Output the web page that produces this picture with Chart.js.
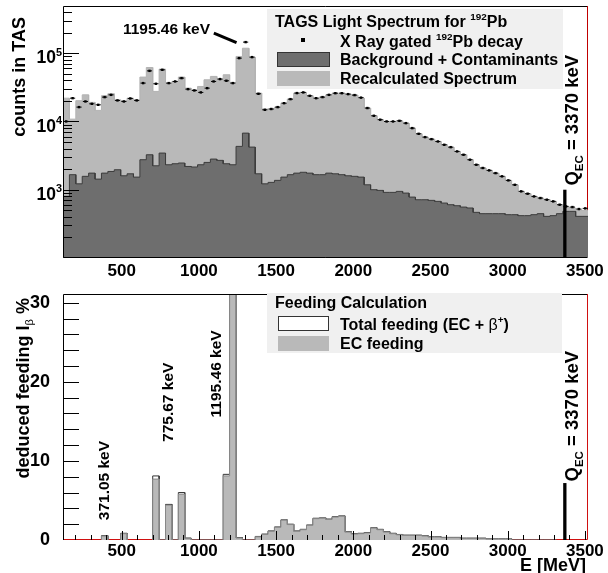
<!DOCTYPE html>
<html><head><meta charset="utf-8">
<script src="https://cdn.jsdelivr.net/npm/chart.js"></script>
<style>
html,body{margin:0;padding:0;background:#fff;width:608px;height:573px;overflow:hidden}
#c1{position:absolute;left:0;top:0}
#c2{position:absolute;left:0;top:280px}
</style></head><body>
<canvas id="c1" width="608" height="280"></canvas>
<canvas id="c2" width="608" height="293"></canvas>
<script>
// ---------------- data ----------------
const binStart = 120;     // keV, lower edge of first bin
const binWidth = 41.5;    // keV
const xMin = 120, xMax = 3520;
const xTickValues = [500, 1000, 1500, 2000, 2500, 3000, 3500];

const topYMin = 100, topYMax = 490000;
const topYTickValues = [1000, 10000, 100000];
const topYTickExponents = ['3', '4', '5'];

const measured = [10000, 21900, 16200, 19600, 18100, 17500, 22700, 24500, 20300, 19600,
  21700, 20300, 36400, 55000, 35600, 57000, 36400, 38500, 43100, 29700,
  28400, 26600, 30700, 38500, 41700, 39400, 36400, 84500, 145000, 87400,
  25400, 14800, 15200, 16200, 18500, 21200, 26000, 26600, 23700, 21900,
  22700, 24500, 25900, 25900, 25100, 24300, 22300, 15700, 12100, 10600,
  9990, 9990, 10200, 9440, 7980, 6590, 5890, 5500, 5090, 4550,
  4200, 3640, 3250, 2750, 2320, 2080, 1920, 1750, 1570, 1370,
  1180, 946, 874, 798, 755, 714, 675, 603, 570, 557,
  521, 533];

const recalculated = [21900, 10800, 20100, 24500, 19000, 14500, 23800, 25400, 20700, 20100,
  21900, 20700, 44600, 61600, 27500, 58300, 36400, 38500, 44600, 30700,
  29100, 32500, 40700, 45600, 41700, 48200, 37200, 89400, 118000, 87400,
  26000, 15200, 15200, 16200, 18500, 21200, 26000, 26600, 23800, 21900,
  22700, 24500, 25900, 25900, 25100, 24300, 22000, 15700, 12100, 10600,
  9990, 9990, 10200, 9440, 7980, 6590, 5890, 5500, 5090, 4550,
  4200, 3640, 3250, 2750, 2320, 2080, 1920, 1750, 1570, 1370,
  1180, 946, 874, 798, 755, 714, 675, 603, 560, 540,
  505, 500];

const background = [800, 1660, 1220, 1570, 1750, 1430, 1750, 1850, 1960, 1600,
  1710, 1530, 2750, 3250, 2240, 3440, 2320, 2400, 2460, 2190,
  2150, 2320, 2510, 2810, 2690, 2400, 2320, 4310, 6740, 4210,
  1710, 1220, 1280, 1370, 1530, 1660, 1750, 1800, 1750, 1660,
  1660, 1750, 1710, 1660, 1600, 1570, 1530, 1180, 1000, 977,
  914, 914, 945, 893, 780, 713, 713, 698, 675, 638,
  603, 583, 557, 540, 466, 446, 446, 446, 446, 431,
  431, 417, 417, 431, 446, 407, 417, 446, 482, 482,
  407, 407];

const qEC = 3370;            // keV
const qLineTopCounts = 1000;
const qLineTopFeeding = 7.2;

const botYMin = 0, botYMax = 31.1;
const botYTickValues = [0, 10, 20, 30];

const ecFeeding = [null, null, null, null, null, null, 0.5, null, null, 0.8,
  null, null, null, null, 7.7, 0, 4.4, 0, 5.8, 0.2,
  0, 0, 0, 0, 0, 8.1, 45, 0.25, 0, 0,
  0.4, 0.7, 1.1, 1.6, 2.5, 1.95, 1.1, 1.3, 1.85, 2.7,
  2.75, 2.6, 2.9, 3.0, 1.0, 0.75, 0.8, 0.9, 1.5, 1.3,
  1.0, 0.8, 0.66, 0.58, 0.58, 0.58, 0.5, 0.37, 0.37, 0.29,
  0.29, 0.29, 0.2, 0.2, 0.2, 0.2, 0.12, 0.12, 0.12, 0.12,
  0, 0, 0, 0, 0, 0, 0, null, null, null,
  null, null];

const totalFeeding = [null, null, null, null, null, null, 0.55, null, null, 0.85,
  null, null, null, null, 8.1, 0, 4.5, 0, 6.0, 0.25,
  0, 0, 0, 0, 0, 8.3, 45, 0.3, 0, 0,
  0.45, 0.75, 1.15, 1.65, 2.55, 2.0, 1.15, 1.35, 1.9, 2.75,
  2.8, 2.65, 2.95, 3.05, 1.05, 0.8, 0.85, 0.95, 1.55, 1.35,
  1.05, 0.85, 0.7, 0.62, 0.62, 0.62, 0.54, 0.41, 0.41, 0.33,
  0.33, 0.33, 0.24, 0.24, 0.24, 0.24, 0.15, 0.15, 0.15, 0.15,
  0, 0, 0, 0, 0, 0, 0, null, null, null,
  null, null];

// annotation anchors (data coordinates)
const peakLabelTop = {text: '1195.46 keV', e: 790, counts: 230000};
const peakArrowTop = {e0: 1097, c0: 196000, e1: 1244, c1: 143000};
const qLabelTopCounts = 1150;
const qLabelBotFeeding = 7.4;
const levelLabels = [
  {text: '371.05 keV', e: 384, v: 2.5},
  {text: '775.67 keV', e: 795, v: 12.4},
  {text: '1195.46 keV', e: 1108, v: 15.5}
];

// ---------------- helpers ----------------
const FONT = '"Liberation Sans", Arial, Helvetica, sans-serif';
function font(size, bold) { return (bold === false ? '' : 'bold ') + size + 'px ' + FONT; }
function segSize(s, size) { return (s.sup || s.sub) ? size * 0.62 : size; }
function drawRich(ctx, segs, x, y, size, align, rot, color) {
  ctx.save();
  ctx.translate(x, y);
  if (rot) ctx.rotate(rot);
  let w = 0;
  for (const s of segs) { ctx.font = font(segSize(s, size), s.bold); w += ctx.measureText(s.t).width; }
  let cx = align === 'right' ? -w : (align === 'center' ? -w / 2 : 0);
  ctx.textBaseline = 'alphabetic';
  ctx.fillStyle = color || '#000';
  const base = size * 0.36;
  for (const s of segs) {
    ctx.font = font(segSize(s, size), s.bold);
    let dy = base;
    if (s.sup) dy = base - size * 0.45;
    if (s.sub) dy = base + size * 0.25;
    ctx.fillText(s.t, cx, dy);
    cx += ctx.measureText(s.t).width;
  }
  ctx.restore();
}
function edge(i) { return binStart + binWidth * i; }
function histPoints(vals, floor) {
  const pts = []; let open = false;
  vals.forEach((v, i) => {
    const x0 = edge(i), x1 = edge(i + 1);
    if (v === null) {
      if (open) { pts.push({x: x0, y: floor}); pts.push({x: x0, y: null}); open = false; }
      return;
    }
    if (!open) { pts.push({x: x0, y: floor}); open = true; }
    pts.push({x: x0, y: v}); pts.push({x: x1, y: v});
  });
  if (open) pts.push({x: edge(vals.length), y: floor});
  return pts;
}
function errPoints(vals) {
  const pts = [];
  vals.forEach((v, i) => {
    pts.push({x: edge(i) + binWidth * 0.1, y: v});
    pts.push({x: edge(i + 1) - binWidth * 0.1, y: v});
    pts.push({x: edge(i + 1), y: null});
  });
  return pts;
}
const tickFont = {family: FONT, size: 17, weight: 'bold', lineHeight: 1};

// ---------------- top chart ----------------
const topDecor = {
  id: 'topDecor',
  beforeDatasetsDraw(chart) {
    const {ctx, chartArea: a} = chart;
    ctx.save();
    ctx.strokeStyle = '#c00000'; ctx.lineWidth = 1;
    ctx.beginPath(); ctx.moveTo(a.right - 0.5, a.top); ctx.lineTo(a.right - 0.5, a.bottom); ctx.stroke();
    ctx.restore();
  },
  afterDatasetsDraw(chart) {
    const {ctx, chartArea: a, scales: {x, y}} = chart;
    ctx.save();
    ctx.strokeStyle = '#000'; ctx.lineWidth = 1;
    ctx.beginPath();
    ctx.moveTo(a.right - 1, a.top + 0.5); ctx.lineTo(a.left + 0.5, a.top + 0.5);
    ctx.lineTo(a.left + 0.5, a.bottom - 0.5); ctx.lineTo(a.right - 1, a.bottom - 0.5);
    ctx.stroke();
    // log ticks
    for (let e = 2; e <= 5; e++) {
      for (let m = 1; m <= 9; m++) {
        const v = m * Math.pow(10, e);
        if (v <= topYMin || v >= topYMax) continue;
        const py = Math.round(y.getPixelForValue(v)) + 0.5;
        const len = m === 1 ? 16 : 9;
        ctx.beginPath(); ctx.moveTo(a.left, py); ctx.lineTo(a.left + len, py); ctx.stroke();
      }
    }
    // y labels
    topYTickValues.forEach((v, i) => {
      const py = y.getPixelForValue(v);
      drawRich(ctx, [{t: '10'}, {t: topYTickExponents[i], sup: true}], a.left - 1, py + 4, 17.5, 'right');
    });
    // axis title
    drawRich(ctx, [{t: 'counts in TAS'}], 19, 17, 18, 'right', -Math.PI / 2);
    // peak annotation
    drawRich(ctx, [{t: peakLabelTop.text}], x.getPixelForValue(peakLabelTop.e), y.getPixelForValue(peakLabelTop.counts), 15.5, 'center');
    ctx.lineWidth = 3; ctx.beginPath();
    ctx.moveTo(x.getPixelForValue(peakArrowTop.e0), y.getPixelForValue(peakArrowTop.c0));
    ctx.lineTo(x.getPixelForValue(peakArrowTop.e1), y.getPixelForValue(peakArrowTop.c1));
    ctx.stroke();
    // Q label
    drawRich(ctx, [{t: 'Q'}, {t: 'EC', sub: true}, {t: ' = 3370 keV'}], x.getPixelForValue(qEC) + 6.5, y.getPixelForValue(qLabelTopCounts), 18.5, 'left', -Math.PI / 2);
    // legend
    ctx.fillStyle = '#f0f0f0'; ctx.fillRect(267, 9, 296, 80);
    drawRich(ctx, [{t: 'TAGS Light Spectrum for '}, {t: '192', sup: true}, {t: 'Pb'}], 275, 21, 16, 'left');
    ctx.fillStyle = '#000'; ctx.fillRect(301, 38, 4, 4);
    drawRich(ctx, [{t: 'X Ray gated '}, {t: '192', sup: true}, {t: 'Pb decay'}], 340, 41.5, 16, 'left');
    ctx.fillStyle = '#6e6e6e'; ctx.fillRect(277, 52, 53, 15);
    ctx.strokeStyle = '#333'; ctx.lineWidth = 1; ctx.strokeRect(277.5, 52.5, 52, 14);
    drawRich(ctx, [{t: 'Background + Contaminants'}], 340, 59.5, 16, 'left');
    ctx.fillStyle = '#b9b9b9'; ctx.fillRect(277, 71, 53, 15);
    drawRich(ctx, [{t: 'Recalculated Spectrum'}], 340, 78.5, 16, 'left');
    ctx.restore();
  }
};

new Chart(document.getElementById('c1'), {
  type: 'line',
  data: {
    datasets: [
      { data: measured.map((v, i) => ({x: edge(i) + binWidth / 2, y: v})), showLine: false,
        pointStyle: 'rect', pointRadius: 1.7, pointBackgroundColor: '#000', pointBorderWidth: 0, order: 0 },
      { data: errPoints(measured), borderColor: '#000', borderWidth: 1, pointRadius: 0, spanGaps: false, order: 1 },
      { data: [{x: qEC, y: topYMin}, {x: qEC, y: qLineTopCounts}], borderColor: '#000', borderWidth: 3.3, pointRadius: 0, order: 2 },
      { data: histPoints(background, topYMin), borderColor: '#3c3c3c', borderWidth: 1, backgroundColor: '#6e6e6e',
        fill: 'start', pointRadius: 0, spanGaps: false, order: 3 },
      { data: histPoints(recalculated, topYMin), borderColor: '#b3b3b3', borderWidth: 1, backgroundColor: '#b9b9b9',
        fill: 'start', pointRadius: 0, spanGaps: false, order: 4 }
    ]
  },
  options: {
    responsive: false, animation: false, events: [],
    layout: {padding: {left: 0, right: 20, top: 6, bottom: 0}},
    elements: {line: {tension: 0}},
    plugins: {legend: {display: false}, tooltip: {enabled: false}},
    scales: {
      x: { type: 'linear', min: xMin, max: xMax,
        afterBuildTicks: s => { s.ticks = xTickValues.map(v => ({value: v})); },
        afterFit: s => { s.height = 22; },
        ticks: {font: tickFont, color: '#000', padding: -3, maxRotation: 0, autoSkip: false, callback: v => String(v)},
        grid: {display: false}, border: {display: false} },
      y: { type: 'logarithmic', min: topYMin, max: topYMax,
        afterFit: s => { s.width = 63; },
        ticks: {display: false}, grid: {display: false}, border: {display: false} }
    }
  },
  plugins: [topDecor]
});

// ---------------- bottom chart ----------------
const botDecor = {
  id: 'botDecor',
  beforeDatasetsDraw(chart) {
    const {ctx, chartArea: a, scales: {y}} = chart;
    ctx.save();
    ctx.strokeStyle = '#d01010'; ctx.lineWidth = 1;
    const py = y.getPixelForValue(0) - 0.5;
    ctx.beginPath(); ctx.moveTo(a.left, py); ctx.lineTo(a.right - 0.5, py); ctx.lineTo(a.right - 0.5, a.top); ctx.stroke();
    ctx.restore();
  },
  afterDatasetsDraw(chart) {
    const {ctx, chartArea: a, scales: {x, y}} = chart;
    ctx.save();
    ctx.strokeStyle = '#000'; ctx.lineWidth = 1;
    ctx.beginPath();
    ctx.moveTo(a.right - 1, a.top + 0.5); ctx.lineTo(a.left + 0.5, a.top + 0.5); ctx.lineTo(a.left + 0.5, a.bottom);
    ctx.stroke();
    for (let v = 2; v < botYMax; v += 2) {
      const py = Math.round(y.getPixelForValue(v)) + 0.5;
      ctx.beginPath(); ctx.moveTo(a.left, py); ctx.lineTo(a.left + 16, py); ctx.stroke();
    }
    const py0 = y.getPixelForValue(0);
    for (let e = 200; e <= 3500; e += 100) {
      const px = Math.round(x.getPixelForValue(e)) + 0.5;
      const len = e % 500 === 0 ? 9 : 5;
      ctx.beginPath(); ctx.moveTo(px, py0); ctx.lineTo(px, py0 - len); ctx.stroke();
    }
    drawRich(ctx, [{t: 'deduced feeding I'}, {t: 'β', sub: true, bold: false}, {t: ' %'}], 22.5, 18, 18, 'right', -Math.PI / 2);
    drawRich(ctx, [{t: 'E [MeV]'}], 586, 285, 18, 'right');
    levelLabels.forEach(l => {
      drawRich(ctx, [{t: l.text}], x.getPixelForValue(l.e), y.getPixelForValue(l.v), 15.5, 'left', -Math.PI / 2);
    });
    drawRich(ctx, [{t: 'Q'}, {t: 'EC', sub: true}, {t: ' = 3370 keV'}], x.getPixelForValue(qEC) + 6.5, y.getPixelForValue(qLabelBotFeeding), 18.5, 'left', -Math.PI / 2);
    // legend
    ctx.fillStyle = '#f0f0f0'; ctx.fillRect(267, 13, 295, 60);
    drawRich(ctx, [{t: 'Feeding Calculation'}], 275, 22, 16, 'left');
    ctx.fillStyle = '#fff'; ctx.fillRect(278, 36, 51, 15);
    ctx.strokeStyle = '#333'; ctx.strokeRect(278.5, 36.5, 50, 14);
    drawRich(ctx, [{t: 'Total feeding (EC + '}, {t: 'β', bold: false}, {t: '+', sup: true}, {t: ')'}], 340, 44.5, 16, 'left');
    ctx.fillStyle = '#b9b9b9'; ctx.fillRect(278, 56, 51, 15);
    drawRich(ctx, [{t: 'EC feeding'}], 340, 63.5, 16, 'left');
    ctx.restore();
  }
};

new Chart(document.getElementById('c2'), {
  type: 'line',
  data: {
    datasets: [
      { data: [{x: qEC, y: 0}, {x: qEC, y: qLineTopFeeding}], borderColor: '#000', borderWidth: 3.3, pointRadius: 0, order: 0 },
      { data: histPoints(ecFeeding, 0), borderColor: '#888888', borderWidth: 1, backgroundColor: '#b9b9b9',
        fill: 'start', pointRadius: 0, spanGaps: false, order: 1 },
      { data: histPoints(totalFeeding, 0), borderColor: '#333333', borderWidth: 1, backgroundColor: '#ffffff',
        fill: 'start', pointRadius: 0, spanGaps: false, order: 2 }
    ]
  },
  options: {
    responsive: false, animation: false, events: [],
    layout: {padding: {left: 0, right: 20, top: 9, bottom: 0}},
    elements: {line: {tension: 0}},
    plugins: {legend: {display: false}, tooltip: {enabled: false}},
    scales: {
      x: { type: 'linear', min: xMin, max: xMax,
        afterBuildTicks: s => { s.ticks = xTickValues.map(v => ({value: v})); },
        afterFit: s => { s.height = 33; },
        ticks: {font: tickFont, color: '#000', padding: -5, maxRotation: 0, autoSkip: false, callback: v => String(v)},
        grid: {display: false}, border: {display: false} },
      y: { type: 'linear', min: botYMin, max: botYMax,
        afterBuildTicks: s => { s.ticks = botYTickValues.map(v => ({value: v})); },
        afterFit: s => { s.width = 63; },
        ticks: {font: {family: FONT, size: 18, weight: 'bold', lineHeight: 1}, color: '#000', padding: 5, callback: v => String(v)},
        grid: {display: false}, border: {display: false} }
    }
  },
  plugins: [botDecor]
});
</script>
</body></html>
